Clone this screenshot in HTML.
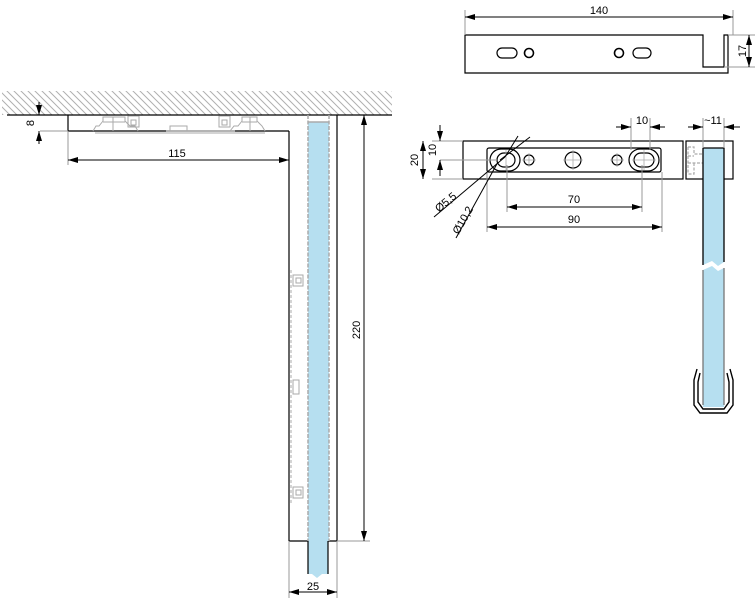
<!DOCTYPE html>
<html><head><meta charset="utf-8"><style>
html,body{margin:0;padding:0;background:#fff;}
svg{display:block;font-family:"Liberation Sans",sans-serif;}
</style></head><body>
<svg width="755" height="604" viewBox="0 0 755 604" xmlns="http://www.w3.org/2000/svg">
<defs>
<pattern id="h" width="7" height="7" patternUnits="userSpaceOnUse">
<path d="M-1,-1 L8,8 M-8,-1 L1,8 M6,-1 L15,8" stroke="#b0b0b0" stroke-width="1"/>
</pattern>
<marker id="a" viewBox="0 0 10 6" refX="10" refY="3" markerWidth="10" markerHeight="6" orient="auto-start-reverse" markerUnits="userSpaceOnUse">
<path d="M0,0 L10,3 L0,6 z" fill="#000"/>
</marker>
</defs>
<g fill="none" stroke="#000" stroke-width="1.2">
<rect x="2" y="91" width="390" height="24" fill="url(#h)" stroke="none"/>
<line x1="7" y1="115" x2="392" y2="115"/>
<line x1="68" y1="115" x2="68" y2="131"/>
<line x1="68" y1="131" x2="289" y2="131"/>
<line x1="289" y1="131" x2="289" y2="541"/>
<line x1="337" y1="115" x2="337" y2="541"/>
<line x1="289" y1="541" x2="337" y2="541"/>
</g>
<g fill="none" stroke="#aaa" stroke-width="1">
<path d="M93,131 L96,126 L99,126 L103,121 L103,117 L125,117 L125,121 L130,126 L135,126 L138,131"/>
<line x1="103" y1="122" x2="125" y2="122"/><line x1="113" y1="117" x2="113" y2="131"/>
<rect x="128" y="116" width="11" height="11"/><rect x="131" y="120" width="5" height="5"/>
<path d="M170,131 L170,126 L187,126 L187,131"/><path d="M166,131 L235,131 M95,133 L265,133"/>
<rect x="219" y="116" width="11" height="11"/><rect x="222" y="120" width="5" height="5"/>
<path d="M230,131 L234,126 L238,126 L242,121 L242,117 L257,117 L257,121 L262,126 L265,131"/>
<line x1="242" y1="122" x2="257" y2="122"/><line x1="250" y1="117" x2="250" y2="131"/>
<line x1="291" y1="270" x2="291" y2="505" stroke-dasharray="3,2"/>
<rect x="293" y="275" width="10" height="11"/><rect x="296" y="278" width="5" height="5"/>
<rect x="293" y="380" width="6" height="14"/>
<rect x="293" y="487" width="10" height="11"/><rect x="296" y="490" width="5" height="5"/>
</g>
<rect x="308" y="122" width="21" height="419" fill="#b6dff0"/>
<g stroke="#aaa" stroke-width="1.5" stroke-dasharray="4,1.5"><line x1="308" y1="115" x2="308" y2="541"/><line x1="329" y1="115" x2="329" y2="541"/></g>
<line x1="308" y1="122" x2="329" y2="122" stroke="#aaa" stroke-width="1.5"/>
<path d="M308,541 L308,574 L312,574 L317,578 L322,574 L328,574 L328,541 Z" fill="#b6dff0"/>
<g stroke="#000" stroke-width="1.2"><line x1="308" y1="541" x2="308" y2="574"/><line x1="328" y1="541" x2="328" y2="574"/></g>
<g stroke="#999" stroke-width="1" fill="none">
<line x1="68" y1="131" x2="68" y2="165"/><line x1="40" y1="131" x2="68" y2="131"/>
<line x1="289" y1="541" x2="289" y2="598"/><line x1="337" y1="541" x2="337" y2="598"/>
<line x1="337" y1="541" x2="370" y2="541"/>
</g>
<g stroke="#000" stroke-width="1">
<line x1="68" y1="160" x2="289" y2="160" marker-start="url(#a)" marker-end="url(#a)"/>
<line x1="364" y1="115" x2="364" y2="541" marker-start="url(#a)" marker-end="url(#a)"/>
<line x1="289" y1="592" x2="337" y2="592" marker-start="url(#a)" marker-end="url(#a)"/>
<line x1="39" y1="102" x2="39" y2="115" marker-end="url(#a)"/>
<line x1="39" y1="144" x2="39" y2="131" marker-end="url(#a)"/>
</g>
<g font-size="11" fill="#000">
<text x="177" y="157" text-anchor="middle">115</text>
<text x="313" y="590" text-anchor="middle">25</text>
<text transform="translate(360,330) rotate(-90)" text-anchor="middle">220</text>
<text transform="translate(34,123) rotate(-90)" text-anchor="middle">8</text>
</g>
<g fill="none" stroke="#000" stroke-width="1.2">
<path d="M465,35 L703,35 L703,67 L724,67 L724,35 L728,35 L728,73 L465,73 Z"/>
<rect x="497" y="48" width="20" height="10" rx="5"/><circle cx="529" cy="53" r="4.5" stroke-width="1.6"/>
<circle cx="619" cy="53" r="4.5" stroke-width="1.6"/><rect x="633" y="48" width="18" height="10" rx="5"/>
</g>
<g stroke="#999" stroke-width="1"><line x1="465" y1="10" x2="465" y2="35"/><line x1="733" y1="10" x2="733" y2="35"/>
<line x1="728" y1="35" x2="755" y2="35"/><line x1="724" y1="67" x2="755" y2="67"/></g>
<g stroke="#000" stroke-width="1">
<line x1="465" y1="17" x2="733" y2="17" marker-start="url(#a)" marker-end="url(#a)"/>
<line x1="749" y1="35" x2="749" y2="67" marker-start="url(#a)" marker-end="url(#a)"/>
</g>
<text x="599" y="14" font-size="11" text-anchor="middle">140</text>
<text transform="translate(746,51) rotate(-90)" font-size="11" text-anchor="middle">17</text>
<g fill="none" stroke="#000" stroke-width="1.2">
<rect x="463" y="141" width="220" height="38"/>
<rect x="686" y="141" width="47" height="38"/>
<rect x="487" y="148" width="174" height="24" rx="2"/>
<rect x="490" y="149" width="30" height="22" rx="11"/><rect x="497" y="153" width="18" height="14" rx="7"/>
<circle cx="529" cy="160" r="5"/><circle cx="573" cy="160" r="8"/><circle cx="617" cy="160" r="5"/>
<rect x="629" y="149" width="30" height="22" rx="11"/><rect x="634" y="153" width="20" height="14" rx="7"/>
</g>
<g stroke="#aaa" stroke-width="0.8">
<line x1="529" y1="153" x2="529" y2="167"/><line x1="522" y1="160" x2="536" y2="160"/>
<line x1="617" y1="153" x2="617" y2="167"/><line x1="610" y1="160" x2="624" y2="160"/>
<line x1="573" y1="150" x2="573" y2="170"/><line x1="563" y1="160" x2="583" y2="160"/>
<line x1="644" y1="150" x2="644" y2="170"/><line x1="632" y1="160" x2="656" y2="160"/>
<line x1="506" y1="150" x2="506" y2="170"/>
<path d="M688,147 L694,147 L694,154 L703,154 M688,156 L694,156 M688,163 L703,163 M694,163 L694,174 L688,174 M688,147 L688,174" stroke-dasharray="3,1.5" fill="none" stroke-width="1.2"/>
</g>
<path d="M703,148 L724,148 L724,262 L718,266 L712,261 L703,265 Z" fill="#b6dff0"/>
<path d="M703,270 L712,266 L718,271 L724,268 L724,407 L703,407 Z" fill="#b6dff0"/>
<g stroke="#000" stroke-width="1.3" fill="none">
<path d="M703,148 L724,148 L724,262 M703,148 L703,265"/>
<path d="M703,270 L703,405 M724,268 L724,405" stroke="#777"/>
<path d="M697,369 L694,380 L694,405 L700,413 L727,413 L733,405 L733,380 L730,369 M700,373 L698,382 L698,402 L703,409 L724,409 L729,402 L729,382 L727,373" stroke-width="1.4"/>
</g>
<g stroke="#999" stroke-width="1">
<line x1="432" y1="141" x2="463" y2="141"/><line x1="432" y1="179" x2="463" y2="179"/>
<line x1="440" y1="160" x2="497" y2="160"/>
<line x1="487" y1="172" x2="487" y2="232"/><line x1="662" y1="172" x2="662" y2="232"/>
<line x1="507" y1="165" x2="507" y2="212"/><line x1="642" y1="165" x2="642" y2="212"/>
<line x1="631" y1="118" x2="631" y2="150"/><line x1="650" y1="118" x2="650" y2="150"/>
<line x1="703" y1="118" x2="703" y2="148"/><line x1="724" y1="118" x2="724" y2="148"/>
</g>
<g stroke="#000" stroke-width="1">
<line x1="423" y1="141" x2="423" y2="179" marker-start="url(#a)" marker-end="url(#a)"/>
<line x1="440" y1="125" x2="440" y2="141" marker-end="url(#a)"/>
<line x1="440" y1="176" x2="440" y2="160" marker-end="url(#a)"/>
<line x1="507" y1="207" x2="642" y2="207" marker-start="url(#a)" marker-end="url(#a)"/>
<line x1="487" y1="227" x2="662" y2="227" marker-start="url(#a)" marker-end="url(#a)"/>
<line x1="616" y1="127" x2="631" y2="127" marker-end="url(#a)"/>
<line x1="665" y1="127" x2="650" y2="127" marker-end="url(#a)"/>
<line x1="688" y1="127" x2="703" y2="127" marker-end="url(#a)"/>
<line x1="740" y1="127" x2="724" y2="127" marker-end="url(#a)"/>
<line x1="434" y1="217" x2="505" y2="157"/><line x1="505" y1="157" x2="518" y2="136"/>
<line x1="456" y1="238" x2="498" y2="162"/><line x1="500" y1="160" x2="530" y2="137"/>
</g>
<g font-size="11" fill="#000">
<text transform="translate(418,160) rotate(-90)" text-anchor="middle">20</text>
<text transform="translate(436,150) rotate(-90)" text-anchor="middle">10</text>
<text x="574" y="203" text-anchor="middle">70</text>
<text x="574" y="223" text-anchor="middle">90</text>
<text x="642" y="124" text-anchor="middle">10</text>
<text x="713" y="124" text-anchor="middle">~11</text>
<text transform="translate(448,205) rotate(-40)" text-anchor="middle">Ø5,5</text>
<text transform="translate(466,222) rotate(-60)" text-anchor="middle">Ø10,2</text>
</g>
</svg>
</body></html>
